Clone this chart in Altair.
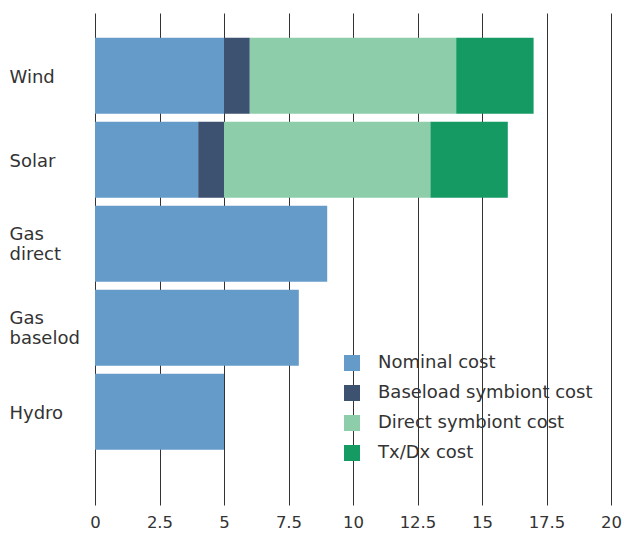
import altair as alt
import pandas as pd

categories = ["Wind", "Solar", "Gas direct", "Gas baselod", "Hydro"]
series = ["Nominal cost", "Baseload symbiont cost", "Direct symbiont cost", "Tx/Dx cost"]
nominal = [5, 4, 9, 7.9, 5]
baseload = [1, 1, 0, 0, 0]
direct = [8, 8, 0, 0, 0]
txdx = [3, 3, 0, 0, 0]
colors = ["#659bc8", "#3d5170", "#8dcdaa", "#159a64"]
x_ticks = [0, 2.5, 5, 7.5, 10, 12.5, 15, 17.5, 20]

rows = []
for i, c in enumerate(categories):
    for k, (s, vals) in enumerate(zip(series, [nominal, baseload, direct, txdx])):
        rows.append({"category": c, "series": s, "value": vals[i], "order": k})
df = pd.DataFrame(rows)

font = "DejaVu Sans"

chart = alt.Chart(df).mark_bar().encode(
    y=alt.Y("category:N", sort=categories, title=None,
            scale=alt.Scale(paddingInner=0.095, paddingOuter=0.476, align=0.31),
            axis=alt.Axis(domain=False, ticks=False, labelAlign="left", labelPadding=86,
                          labelExpr="split(datum.label, ' ')", labelLineHeight=20,
                          labelFontSize=18, labelColor="#333333", labelFont=font,
                          labelBaseline="middle", labelLimit=0,
                          labelOffset={"condition": {"test": "indexof(datum.value, ' ') >= 0", "value": -9}, "value": 2})),
    x=alt.X("value:Q", stack="zero", title=None,
            scale=alt.Scale(domain=[0, 20], nice=False),
            axis=alt.Axis(values=x_ticks, domain=False, ticks=False, grid=True, format=".1~f",
                          gridColor="#333333", gridWidth=1, gridOpacity=1,
                          labelFontSize=16.5, labelColor="#333333", labelFont=font,
                          labelPadding=9, labelFlush=False)),
    color=alt.Color("series:N", sort=series,
                    scale=alt.Scale(domain=series, range=colors),
                    legend=alt.Legend(title=None, orient="none", legendX=248, legendY=341,
                                      symbolType="square", symbolSize=256,
                                      symbolStrokeWidth=0, labelFontSize=18,
                                      labelColor="#333333", labelFont=font, labelLimit=0,
                                      labelOffset=17, rowPadding=12)),
    order=alt.Order("order:Q"),
).properties(
    width=516, height=492,
    padding={"left": 95, "top": 13, "right": 13, "bottom": 28},
    autosize=alt.AutoSizeParams(type="none"),
).configure_view(stroke=None)

chart.save("out.html", embed_options={"renderer": "svg", "actions": False})
